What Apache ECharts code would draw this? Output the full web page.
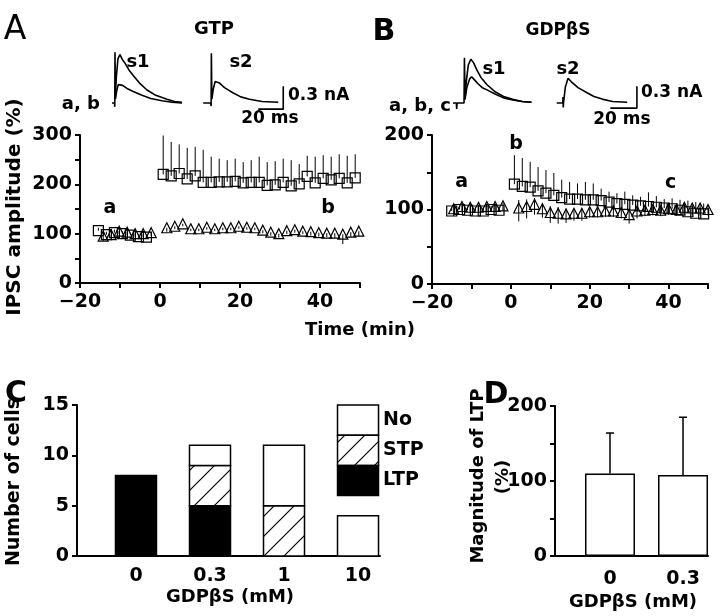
<!DOCTYPE html>
<html><head><meta charset="utf-8">
<script src="https://cdn.jsdelivr.net/npm/echarts@6/dist/echarts.min.js"></script>
<style>html,body{margin:0;padding:0;background:#fff}#c{width:720px;height:616px}</style>
</head><body><div id="c"></div><script>
// ---------- Panel A (GTP) ----------
const tSqPreA  = [-15.4,-13.4,-11.4,-9.4,-7.4,-5.4,-3.4];
const sqPreA   = [106, 98, 102, 100, 97, 94, 93];
const sqPreErrA= [6, 6, 6, 5, 5, 5, 5];
const tTriPreA = [-14.2,-12.2,-10.2,-8.2,-6.2,-4.2,-2.2];
const triPreA  = [95, 98, 105, 103, 100, 100, 102];
const triPreErrA=[10, 8, 6, 6, 6, 6, 6];
const tSqPostA = [0.8,2.8,4.8,6.8,8.8,10.8,12.8,14.8,16.8,18.8,20.8,22.8,24.8,26.8,28.8,30.8,32.8,34.8,36.8,38.8,40.8,42.8,44.8,46.8,48.8];
const sqPostA  = [220,217,222,211,217,204,204,205,205,206,203,204,204,198,199,204,197,201,216,203,212,209,212,203,213];
const sqErrA   = [79,69,59,63,59,66,52,47,44,46,42,45,52,47,48,48,52,40,42,53,47,47,49,55,48];
const tTriPostA= [1.7,3.7,5.7,7.7,9.7,11.7,13.7,15.7,17.7,19.7,21.7,23.7,25.7,27.7,29.7,31.7,33.7,35.7,37.7,39.7,41.7,43.7,45.7,47.7,49.7];
const triPostA = [112,115,120,110,110,113,110,112,112,115,113,112,107,103,100,106,108,105,104,102,101,101,99,103,105];
const triErrA  = [8,6,5,5,5,5,5,5,5,5,5,5,6,7,8,7,6,6,8,8,8,10,20,10,10];
const annTextA = ['a','b'];
const annXA    = [-12.5, 42];
const annYA    = [152, 152];

// ---------- Panel B (GDPbS) ----------
const tSqPreB  = [-15,-13,-11,-9,-7,-5,-3];
const sqPreB   = [98, 100, 99, 98, 98, 100, 99];
const sqPreErrB= [5, 5, 5, 5, 5, 5, 5];
const tTriPreB = [-14.5,-12.4,-10.3,-8.2,-6.1,-4,-2];
const triPreB  = [101, 104, 103, 103, 104, 104, 105];
const triPreErrB=[10, 8, 8, 6, 6, 6, 6];
const tSqPostB = [0.9,2.9,4.9,6.9,8.9,10.9,12.9,14.9,16.9,18.9,20.9,22.9,24.9,26.9,28.9,30.9,32.9,34.9,36.9,38.9,40.9,42.9,44.9,46.9,48.9];
const sqPostB  = [134,131,130,125,122,119,116,114,114,113,113,112,110,108,107,106,105,104,103,102,101,99,97,95,94];
const sqErrB   = [39,38,34,32,31,30,24,23,21,24,22,16,14,14,17,13,12,19,15,12,14,14,15,15,14];
const tTriPostB= [2,4,6,8,10,12,14,16,18,20,22,24,26,28,30,32,34,36,38,40,42,44,46,48,50];
const triPostB = [102,104,107,101,96,95,94,95,95,97,97,98,98,96,93,98,99,100,99,101,100,103,102,102,100];
const triErrB  = [18,16,14,12,14,14,12,10,10,8,8,8,8,8,12,10,8,8,8,8,8,10,10,10,8];
const annTextB = ['a','b','c'];
const annXB    = [-12.5, 1.3, 40.5];
const annYB    = [137, 188, 136];

// ---------- Traces (ms, nA) ----------
const trA_s1_big   = [[0,0],[2,0],[2.2,-0.05],[2.4,0.66],[2.7,0.08],[3.5,0.35],[4.8,0.58],[6.4,0.63],[8.5,0.56],[10.4,0.52],[14,0.42],[17,0.36],[22,0.26],[28,0.17],[35,0.1],[44,0.05],[50,0.02],[56,0.01]];
const trA_s1_small = [[2.7,0.05],[3.8,0.16],[5,0.24],[6.4,0.26],[8.5,0.23],[12,0.19],[17,0.15],[24,0.1],[31,0.06],[40,0.03],[48,0.01],[56,0]];
const trA_s2       = [[73,0],[79,0],[79.3,-0.04],[79.5,0.65],[79.9,0.05],[81,0.18],[82.5,0.28],[83.5,0.3],[86,0.26],[90,0.2],[97,0.13],[103,0.08],[110,0.05],[120,0.02],[133,0.01]];
const scaleA       = [[117,-0.08],[137,-0.08],[137,0.22]];
const trB_s1_big   = [[0,0],[2.5,0],[2.8,-0.08],[3.1,0],[8.3,0],[8.6,0.62],[9,0.05],[10,0.3],[11.5,0.52],[13.5,0.6],[15.5,0.55],[18,0.45],[21,0.35],[25.6,0.25],[32,0.15],[38,0.09],[45,0.05],[52,0.02],[59,0.01]];
const trB_s1_small = [[9,0.05],[10.5,0.22],[12.5,0.33],[14,0.36],[16,0.32],[19,0.26],[22,0.21],[25.6,0.18],[32,0.12],[38,0.07],[45,0.04],[52,0.02],[59,0.01]];
const trB_s2       = [[78,0],[82.5,0],[82.7,0.08],[82.9,-0.06],[83.2,0.02],[84.5,0.22],[86.5,0.34],[89,0.29],[94,0.21],[100.8,0.14],[106,0.09],[112.8,0.05],[120,0.02],[131,0.01]];
const scaleB       = [[118.3,-0.07],[138.3,-0.07],[138.3,0.23]];

// ---------- Panel C ----------
const catsC = ['0','0.3','1','10'];
const ltpC  = [8, 5, 0, 0];
const stpC  = [0, 4, 5, 0];
const noC   = [0, 2, 6, 4];
const legendNames = ['No','STP','LTP'];
const legendTop = 15, legendStep = 3, legendCat = 3;

// ---------- Panel D ----------
const catsD = ['0','0.3'];
const magD  = [110, 108];
const semD  = [54, 77];

const FONT = '"DejaVu Sans"';
const chart = echarts.init(document.getElementById('c'));

const hatch = document.createElement('canvas');
hatch.width = 20; hatch.height = 20;
(function(){const g=hatch.getContext('2d');g.fillStyle='#fff';g.fillRect(0,0,20,20);g.strokeStyle='#000';g.lineWidth=1.2;
 g.beginPath();g.moveTo(-2,22);g.lineTo(22,-2);g.moveTo(-2,2);g.lineTo(2,-2);g.moveTo(18,22);g.lineTo(22,18);g.stroke();})();
const hatchFill = {image: hatch, repeat: 'repeat'};

const zip = (a,b) => a.map((v,i)=>[v,b[i]]);
const minus = v => (v<0 ? '\u2212'+(-v) : ''+v);
const lbl = {color:'#000', fontFamily:FONT, fontWeight:'bold', fontSize:19};
const axLine = {show:true, onZero:false, lineStyle:{color:'#000', width:2}};
const axTick = {show:true, length:5, lineStyle:{color:'#000', width:2}};

function errLine(params, api){
  const x=api.value(0);
  const a=api.coord([x,api.value(1)]), b=api.coord([x,api.value(2)]);
  return {type:'line', shape:{x1:a[0],y1:a[1],x2:b[0],y2:b[1]}, style:{stroke:'#000', lineWidth:1}};
}
function errCap(params, api){
  const x=api.value(0);
  const a=api.coord([x,api.value(1)]), b=api.coord([x,api.value(2)]);
  return {type:'group', children:[
    {type:'line', shape:{x1:a[0],y1:a[1],x2:b[0],y2:b[1]}, style:{stroke:'#000', lineWidth:1.5}},
    {type:'line', shape:{x1:b[0]-4,y1:b[1],x2:b[0]+4,y2:b[1]}, style:{stroke:'#000', lineWidth:1.5}}]};
}
// stacked bar drawn through the axes: dims [index, value, stackBase]
function stackBar(fill){
  return function(params, api){
    const i=api.value(0), v=api.value(1), base=api.value(2);
    if(!v) return null;
    const lo=api.coord([i, base]), hi=api.coord([i, base+v]);
    const w=41;
    return {type:'rect', shape:{x:lo[0]-w/2, y:hi[1], width:w, height:lo[1]-hi[1]},
      style:{fill, stroke:'#000', lineWidth:1.5}};
  };
}
const hollow = {color:'rgba(255,255,255,0)', borderColor:'#000', borderWidth:1.2, opacity:1};

function timeSeries(ax, tSqPre, sqPre, sqPreErr, tSqPost, sqPost, sqErr, tTriPre, triPre, triPreErr, tTriPost, triPost, triErr, triUp, annT, annX, annY){
  const tSq = tSqPre.concat(tSqPost), vSq = sqPre.concat(sqPost), eSq = sqPreErr.concat(sqErr);
  const tTr = tTriPre.concat(tTriPost), vTr = triPre.concat(triPost), eTr = triPreErr.concat(triErr);
  return [
    {type:'custom', xAxisIndex:ax, yAxisIndex:ax, renderItem:errLine, encode:{x:0,y:[1,2]},
     data:tSq.map((t,i)=>[t, vSq[i], vSq[i]+eSq[i]]), silent:true},
    {type:'custom', xAxisIndex:ax, yAxisIndex:ax, renderItem:errLine, encode:{x:0,y:[1,2]},
     data:tTr.map((t,i)=>[t, vTr[i]-eTr[i], triUp ? vTr[i]+eTr[i]*0.6 : vTr[i]]), silent:true},
    {type:'scatter', xAxisIndex:ax, yAxisIndex:ax, symbol:'rect', symbolSize:10, itemStyle:hollow, data:zip(tSq,vSq)},
    {type:'scatter', xAxisIndex:ax, yAxisIndex:ax, symbol:'triangle', symbolSize:[10,10], itemStyle:hollow, data:zip(tTr,vTr)},
    {type:'scatter', xAxisIndex:ax, yAxisIndex:ax, symbolSize:1, itemStyle:{color:'rgba(0,0,0,0)', opacity:1},
     label:{show:true, position:'inside', formatter:p=>p.name, color:'#000', opacity:1, textBorderWidth:0,
       fontFamily:FONT, fontWeight:'bold', fontSize:19},
     data:annT.map((s,i)=>({name:s, value:[annX[i], annY[i]]}))}
  ];
}
const traceLine = (ax, data) => ({type:'line', xAxisIndex:ax, yAxisIndex:ax, data, showSymbol:false, symbol:'none',
  lineStyle:{color:'#000', width:1.6}, silent:true});

const timeX = {type:'value', min:-20, max:50, interval:10, axisLine:axLine, axisTick:axTick, splitLine:{show:false},
  axisLabel:Object.assign({margin:10, formatter:v=>(v%20===0?minus(v):'')}, lbl)};
const hid = (mn,mx)=>({type:'value', min:mn, max:mx, show:false, splitLine:{show:false}});

const baseLTP = ltpC.map(()=>0);
const baseSTP = ltpC.map((v,i)=>v);
const baseNo  = ltpC.map((v,i)=>v+stpC[i]);

const option = {
  animation:false,
  backgroundColor:'#fff',
  grid:[
    {left:80, top:135, width:280, height:148},
    {left:432, top:135, width:276, height:149},
    {left:77, top:405, width:303, height:151},
    {left:555, top:406, width:153, height:150},
    {left:112, top:49.3, width:180, height:61.4},
    {left:453, top:51.9, width:191.5, height:58.4}
  ],
  xAxis:[
    Object.assign({gridIndex:0}, timeX),
    Object.assign({gridIndex:1}, timeX),
    {gridIndex:2, type:'value', min:-0.797, max:3.297, axisLine:axLine, axisTick:{show:false}, splitLine:{show:false},
     axisLabel:Object.assign({margin:11, customValues:[0,1,2,3], formatter:v=>catsC[Math.round(v)]}, lbl)},
    {gridIndex:3, type:'value', min:-0.753, max:1.342, axisLine:axLine, axisTick:{show:false}, splitLine:{show:false},
     axisLabel:Object.assign({margin:14, customValues:[0,1], formatter:v=>catsD[Math.round(v)]}, lbl)},
    Object.assign({gridIndex:4}, hid(0,144)),
    Object.assign({gridIndex:5}, hid(0,144))
  ],
  yAxis:[
    {gridIndex:0, type:'value', min:0, max:300, interval:50, axisLine:axLine, axisTick:axTick, splitLine:{show:false},
     axisLabel:Object.assign({margin:8, formatter:v=>(v%100===0?v:'')}, lbl)},
    {gridIndex:1, type:'value', min:0, max:200, interval:50, axisLine:axLine, axisTick:axTick, splitLine:{show:false},
     axisLabel:Object.assign({margin:8, formatter:v=>(v%100===0?v:'')}, lbl)},
    {gridIndex:2, type:'value', min:0, max:15, interval:5, axisLine:axLine, axisTick:axTick, splitLine:{show:false},
     axisLabel:Object.assign({margin:8}, lbl)},
    {gridIndex:3, type:'value', min:0, max:200, interval:50, axisLine:axLine, axisTick:axTick, splitLine:{show:false},
     axisLabel:Object.assign({margin:8, formatter:v=>(v%100===0?v:'')}, lbl)},
    Object.assign({gridIndex:4}, hid(-0.1,0.7)),
    Object.assign({gridIndex:5}, hid(-0.1,0.7))
  ],
  series:[].concat(
    timeSeries(0, tSqPreA, sqPreA, sqPreErrA, tSqPostA, sqPostA, sqErrA, tTriPreA, triPreA, triPreErrA, tTriPostA, triPostA, triErrA, false, annTextA, annXA, annYA),
    timeSeries(1, tSqPreB, sqPreB, sqPreErrB, tSqPostB, sqPostB, sqErrB, tTriPreB, triPreB, triPreErrB, tTriPostB, triPostB, triErrB, true, annTextB, annXB, annYB),
    [
      {type:'custom', xAxisIndex:2, yAxisIndex:2, name:'LTP', renderItem:stackBar('#000'), encode:{x:0,y:1},
       data:ltpC.map((v,i)=>[i, v, baseLTP[i]])},
      {type:'custom', xAxisIndex:2, yAxisIndex:2, name:'STP', renderItem:stackBar(hatchFill), encode:{x:0,y:1},
       data:stpC.map((v,i)=>[i, v, baseSTP[i]])},
      {type:'custom', xAxisIndex:2, yAxisIndex:2, name:'No', renderItem:stackBar('#fff'), encode:{x:0,y:1},
       data:noC.map((v,i)=>[i, v, baseNo[i]])},
      {type:'bar', xAxisIndex:3, yAxisIndex:3, barWidth:50,
       itemStyle:{color:'#fff', borderColor:'#000', borderWidth:1.5}, data:magD.map((v,i)=>[i,v])},
      {type:'custom', xAxisIndex:3, yAxisIndex:3, renderItem:errCap, encode:{x:0,y:[1,2]},
       data:magD.map((v,i)=>[i, v, v+semD[i]]), z:1},
      traceLine(4, trA_s1_big), traceLine(4, trA_s1_small), traceLine(4, trA_s2), traceLine(4, scaleA),
      traceLine(5, trB_s1_big), traceLine(5, trB_s1_small), traceLine(5, trB_s2), traceLine(5, scaleB)
    ])
};
chart.setOption(option);

function txt(x, y, text, size, weight, align, rot){
  return {type:'text', x, y, rotation:rot||0, silent:true,
    style:{text, fill:'#000', font:(weight||'bold')+' '+size+'px '+FONT, align:align||'center', verticalAlign:'middle'}};
}
const R = Math.PI/2;
const g = [
  txt(15, 30, 'A', 33, 'normal'),
  txt(384, 32, 'B', 30, 'bold'),
  txt(16, 394, 'C', 30, 'bold'),
  txt(496, 395, 'D', 30, 'bold'),
  txt(214, 29, 'GTP', 18),
  txt(558, 31, 'GDP\u03B2S', 17),
  txt(138, 62, 's1', 18), txt(241, 62, 's2', 18),
  txt(494, 69, 's1', 18), txt(568, 69, 's2', 18),
  txt(100, 104, 'a, b', 18, 'bold', 'right'),
  txt(451, 106, 'a, b, c', 18, 'bold', 'right'),
  txt(288, 96, '0.3 nA', 17, 'bold', 'left'),
  txt(641, 93, '0.3 nA', 17, 'bold', 'left'),
  txt(270, 119, '20 ms', 17),
  txt(622, 120, '20 ms', 17),
  txt(15, 207, 'IPSC amplitude (%)', 20, 'bold', 'center', R),
  txt(360, 330, 'Time (min)', 18),
  txt(14, 482, 'Number of cells', 19, 'bold', 'center', R),
  txt(230, 597, 'GDP\u03B2S (mM)', 18),
  txt(478, 476, 'Magnitude of LTP', 18, 'bold', 'center', R),
  txt(503, 477, '(%)', 18, 'bold', 'center', R),
  txt(633, 602, 'GDP\u03B2S (mM)', 18)
];
const fills = {No:'#fff', STP:hatchFill, LTP:'#000'};
legendNames.forEach((n,i)=>{
  const p1 = chart.convertToPixel({gridIndex:2}, [legendCat, legendTop - legendStep*i]);
  const p2 = chart.convertToPixel({gridIndex:2}, [legendCat, legendTop - legendStep*(i+1)]);
  g.push({type:'rect', shape:{x:p1[0]-20.5, y:p1[1], width:41, height:p2[1]-p1[1]}, silent:true,
    style:{fill:fills[n], stroke:'#000', lineWidth:1.5}});
  g.push(txt(p1[0]+25, (p1[1]+p2[1])/2, n, 19, 'bold', 'left'));
});
chart.setOption({graphic:g});
</script></body></html>
